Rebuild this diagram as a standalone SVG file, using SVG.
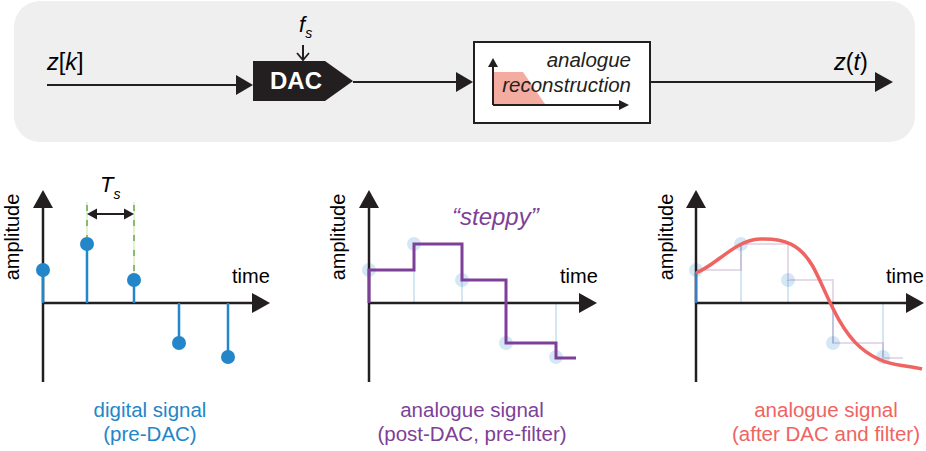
<svg xmlns="http://www.w3.org/2000/svg" width="926" height="451" viewBox="0 0 926 451">
<style>
.t{font-family:"Liberation Sans",Arial,sans-serif;}
.ax{stroke:#231f20;stroke-width:2.5;fill:none;}
.ln{stroke:#231f20;stroke-width:2;fill:none;}
.hd{fill:#231f20;}
.blue{fill:#2386c8;}
.stem{stroke:#2386c8;stroke-width:2.5;}
.pstem{stroke:#2386c8;stroke-width:2;opacity:0.2;}
.pdot{fill:#2386c8;opacity:0.2;}
</style>
<rect x="14" y="1" width="901" height="141" rx="26" fill="#efefef"/>

<g id="connectors">
  <line class="ln" x1="47" y1="85" x2="238" y2="85"/>
  <polygon class="hd" points="253,85 236,75 236,95"/>
  <line class="ln" x1="353" y1="82" x2="458" y2="82"/>
  <polygon class="hd" points="473,82 456,72 456,92"/>
  <line class="ln" x1="651" y1="82" x2="877" y2="82"/>
  <polygon class="hd" points="893,82 875,72 875,92"/>
  <line class="ln" x1="303" y1="45" x2="303" y2="60"/>
  <polyline points="297,53 303,60 309,53" fill="none" stroke="#231f20" stroke-width="1.8"/>
</g>

<g id="input-label"><text class="t" x="47" y="70" font-size="23.5"><tspan font-style="italic">z</tspan>[<tspan font-style="italic">k</tspan>]</text></g>
<g id="output-label"><text class="t" x="834" y="70" font-size="23.5"><tspan font-style="italic">z</tspan>(<tspan font-style="italic">t</tspan>)</text></g>
<g id="fs-label"><text class="t" x="299" y="32" font-size="22" font-style="italic">f<tspan font-size="14" dy="6">s</tspan></text></g>

<g id="dac">
  <polygon points="253,61 325,61 353,81 325,101 253,101" fill="#231f20"/>
  <text class="t" x="296" y="89" font-size="24" font-weight="bold" fill="#ffffff" text-anchor="middle">DAC</text>
</g>

<g id="reconstruction">
  <rect x="474" y="42" width="176" height="81" fill="#ffffff" stroke="#231f20" stroke-width="2"/>
  <polygon points="494,72 523,72 545,104 494,104" fill="#f4aca0"/>
  <line class="ln" x1="493" y1="66" x2="493" y2="105"/>
  <polygon class="hd" points="493,58 488,67 498,67"/>
  <line class="ln" x1="493" y1="105" x2="620" y2="105"/>
  <polygon class="hd" points="629,105 619,100 619,110"/>
  <text class="t" x="631" y="67" font-size="20.5" font-style="italic" text-anchor="end" fill="#231f20">analogue</text>
  <text class="t" x="631" y="92" font-size="20.5" font-style="italic" text-anchor="end" fill="#231f20">reconstruction</text>
</g>

<!-- Panel 1 -->
<g id="digital-plot">
  <line class="ax" x1="43" y1="206" x2="43" y2="382"/>
  <polygon class="hd" points="43,190 33,208 53,208"/>
  <line class="ax" x1="43" y1="303" x2="254" y2="303"/>
  <polygon class="hd" points="270,303 252,293 252,313"/>
  <line class="stem" x1="43" y1="303" x2="43" y2="270"/>
  <line class="stem" x1="87" y1="303" x2="87" y2="244"/>
  <line class="stem" x1="134" y1="303" x2="134" y2="280"/>
  <line class="stem" x1="179" y1="303" x2="179" y2="343"/>
  <line class="stem" x1="228" y1="303" x2="228" y2="357"/>
  <circle class="blue" cx="43" cy="270" r="7"/>
  <circle class="blue" cx="87" cy="244" r="7"/>
  <circle class="blue" cx="134" cy="280" r="7"/>
  <circle class="blue" cx="179" cy="343" r="7"/>
  <circle class="blue" cx="228" cy="357" r="7"/>
  <line x1="87" y1="202" x2="87" y2="237" stroke="#dcedc8" stroke-width="1.5"/>
  <line x1="134" y1="202" x2="134" y2="273" stroke="#dcedc8" stroke-width="1.5"/>
  <line x1="87" y1="202" x2="87" y2="237" stroke="#6aa84f" stroke-width="1.5" stroke-dasharray="6 9" stroke-dashoffset="-3"/>
  <line x1="134" y1="202" x2="134" y2="273" stroke="#6aa84f" stroke-width="1.5" stroke-dasharray="6 9" stroke-dashoffset="-3"/>
  <line x1="95" y1="214" x2="126" y2="214" stroke="#231f20" stroke-width="2"/>
  <polygon class="hd" points="87,214 97,208.5 97,219.5"/>
  <polygon class="hd" points="134,214 124,208.5 124,219.5"/>
  <text class="t" x="100" y="192" font-size="22" font-style="italic">T<tspan font-size="14" dy="7">s</tspan></text>
  <text class="t" x="19" y="237" font-size="20" text-anchor="middle" transform="rotate(-90 19 237)">amplitude</text>
  <text class="t" x="232" y="283" font-size="20">time</text>
  <text class="t" x="150" y="417" font-size="20.5" text-anchor="middle" fill="#2386c8">digital signal</text>
  <text class="t" x="150" y="441" font-size="20.5" text-anchor="middle" fill="#2386c8">(pre-DAC)</text>
</g>

<!-- Panel 2 -->
<g id="steppy-plot">
  <line class="pstem" x1="414" y1="303" x2="414" y2="244"/>
  <line class="pstem" x1="462" y1="303" x2="462" y2="280"/>
  <line class="pstem" x1="506" y1="303" x2="506" y2="343"/>
  <line class="pstem" x1="556" y1="303" x2="556" y2="357"/>
  <circle class="pdot" cx="369" cy="270" r="7"/>
  <circle class="pdot" cx="414" cy="244" r="7"/>
  <circle class="pdot" cx="462" cy="280" r="7"/>
  <circle class="pdot" cx="506" cy="343" r="7"/>
  <circle class="pdot" cx="556" cy="357" r="7"/>
  <line class="ax" x1="369" y1="206" x2="369" y2="382"/>
  <polygon class="hd" points="369,190 359,208 379,208"/>
  <line class="ax" x1="369" y1="303" x2="581" y2="303"/>
  <polygon class="hd" points="597,303 579,293 579,313"/>
  <path d="M369,303 V270 H414 V244 H462 V280 H506 V343 H556 V358 H576" fill="none" stroke="#7e3f98" stroke-width="3"/>
  <text class="t" x="452" y="225" font-size="24" font-style="italic" fill="#7e3f98">“steppy”</text>
  <text class="t" x="345" y="237" font-size="20" text-anchor="middle" transform="rotate(-90 345 237)">amplitude</text>
  <text class="t" x="560" y="283" font-size="20">time</text>
  <text class="t" x="472" y="417" font-size="20.5" text-anchor="middle" fill="#7e3f98">analogue signal</text>
  <text class="t" x="472" y="441" font-size="20.5" text-anchor="middle" fill="#7e3f98">(post-DAC, pre-filter)</text>
</g>

<!-- Panel 3 -->
<g id="filtered-plot">
  <line class="pstem" x1="741" y1="303" x2="741" y2="244"/>
  <line class="pstem" x1="788" y1="303" x2="788" y2="280"/>
  <line class="pstem" x1="833" y1="303" x2="833" y2="343"/>
  <line class="pstem" x1="883" y1="303" x2="883" y2="357"/>
  <circle class="pdot" cx="696" cy="270" r="7"/>
  <circle class="pdot" cx="741" cy="244" r="7"/>
  <circle class="pdot" cx="788" cy="280" r="7"/>
  <circle class="pdot" cx="833" cy="343" r="7"/>
  <circle class="pdot" cx="883" cy="357" r="7"/>
  <path d="M696,303 V270 H741 V244 H788 V280 H833 V343 H883 V358 H903" fill="none" stroke="#7e3f98" stroke-width="2" opacity="0.2"/>
  <line class="ax" x1="696" y1="206" x2="696" y2="382"/>
  <polygon class="hd" points="696,190 686,208 706,208"/>
  <line class="ax" x1="696" y1="303" x2="908" y2="303"/>
  <polygon class="hd" points="924,303 906,293 906,313"/>
  <line x1="696" y1="303" x2="696" y2="272" stroke="#3a7cc0" stroke-width="2.5"/>
  <path d="M696,273 C718,264 735,240 760,239 S800,245 812,265 S836,326 860,347 S905,364 922,369" fill="none" stroke="#ef6461" stroke-width="3.5"/>
  <text class="t" x="673" y="237" font-size="20" text-anchor="middle" transform="rotate(-90 673 237)">amplitude</text>
  <text class="t" x="886" y="283" font-size="20">time</text>
  <text class="t" x="826" y="417" font-size="20.5" text-anchor="middle" fill="#ef6461">analogue signal</text>
  <text class="t" x="826" y="441" font-size="20.5" text-anchor="middle" fill="#ef6461">(after DAC and filter)</text>
</g>
</svg>
